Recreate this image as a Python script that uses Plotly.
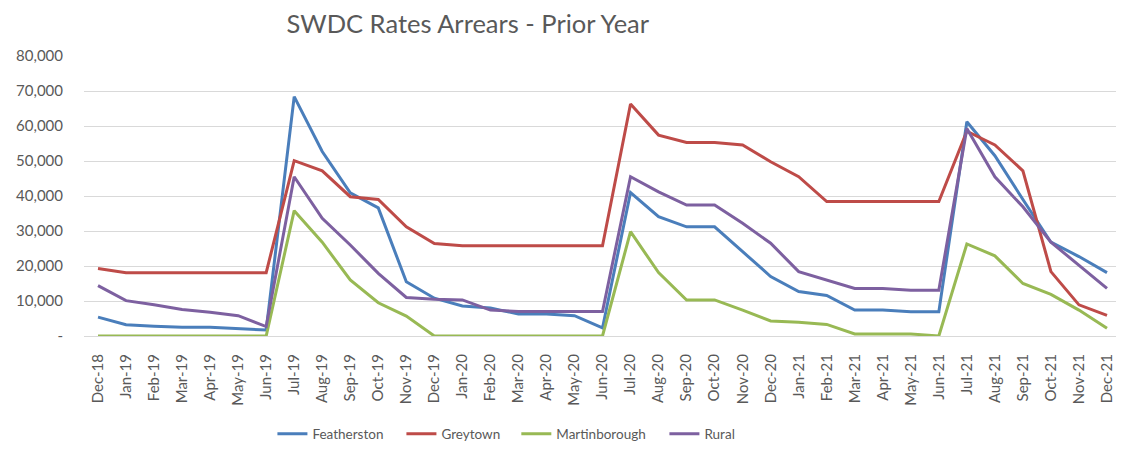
import plotly.graph_objects as go

months = ["Dec-18","Jan-19","Feb-19","Mar-19","Apr-19","May-19","Jun-19","Jul-19","Aug-19","Sep-19",
          "Oct-19","Nov-19","Dec-19","Jan-20","Feb-20","Mar-20","Apr-20","May-20","Jun-20","Jul-20",
          "Aug-20","Sep-20","Oct-20","Nov-20","Dec-20","Jan-21","Feb-21","Mar-21","Apr-21","May-21",
          "Jun-21","Jul-21","Aug-21","Sep-21","Oct-21","Nov-21","Dec-21"]

featherston = [5400, 3200, 2800, 2500, 2500, 2100, 1700, 68400, 52700, 40900,
               36600, 15500, 10800, 8600, 8000, 6300, 6300, 5800, 2300, 41000,
               34100, 31200, 31200, 24100, 17000, 12700, 11600, 7400, 7400, 6900,
               6900, 61200, 51500, 39000, 26800, 22700, 18100]
greytown = [19300, 18100, 18100, 18100, 18100, 18100, 18100, 50100, 47200, 39800,
            39000, 31200, 26400, 25800, 25800, 25800, 25800, 25800, 25800, 66300,
            57400, 55300, 55300, 54600, 49800, 45500, 38400, 38400, 38400, 38400,
            38400, 58500, 54600, 47200, 18400, 8900, 5900]
martinborough = [0, 0, 0, 0, 0, 0, 0, 35800, 26800, 16000,
                 9500, 5700, 0, 0, 0, 0, 0, 0, 0, 29800,
                 18100, 10300, 10300, 7400, 4300, 3900, 3300, 600, 600, 600,
                 0, 26300, 22900, 15000, 11900, 7400, 2200]
rural = [14400, 10100, 8900, 7600, 6800, 5800, 2700, 45500, 33600, 26000,
         17900, 11000, 10500, 10300, 7400, 7000, 7000, 7000, 7000, 45500,
         41200, 37400, 37400, 32200, 26500, 18400, 16000, 13600, 13600, 13100,
         13100, 59300, 45500, 36900, 26800, 20300, 13600]

series = [("Featherston", featherston, "#4A7EBB"),
          ("Greytown", greytown, "#BE4B48"),
          ("Martinborough", martinborough, "#98B954"),
          ("Rural", rural, "#7D60A0")]

ytickvals = [0, 10000, 20000, 30000, 40000, 50000, 60000, 70000, 80000]
yticktext = ["-", "10,000", "20,000", "30,000", "40,000", "50,000", "60,000", "70,000", "80,000"]

font_family = "Lato, 'Open Sans', sans-serif"
grey = "#595959"

# one legend per series so each entry can sit where the reference puts it
legend_ids = ["legend", "legend2", "legend3", "legend4"]
legend_x = [0.1817, 0.3061, 0.4169, 0.5597]

fig = go.Figure()
for (name, vals, col), lid in zip(series, legend_ids):
    fig.add_trace(go.Scatter(x=months, y=vals, name=name, mode="lines",
                             line=dict(color=col, width=3), legend=lid))

legend_common = dict(orientation="h", y=-0.35, yanchor="middle", xanchor="left",
                     font=dict(size=13.5, color=grey, family=font_family),
                     itemwidth=30, bgcolor="rgba(0,0,0,0)")

fig.update_layout(
    width=1116, height=451,
    paper_bgcolor="white", plot_bgcolor="white",
    margin=dict(l=76, r=3, t=48, b=123, autoexpand=False),
    title=dict(text="SWDC Rates Arrears - Prior Year", x=0.412, xanchor="center",
               y=0.965, yanchor="middle",
               font=dict(family=font_family, size=25.5, color=grey)),
    font=dict(family=font_family, size=15, color=grey),
    showlegend=True,
    xaxis=dict(type="category", categoryorder="array", categoryarray=months,
               range=[-0.5, len(months) - 0.5], tickangle=-90, automargin=False,
               showgrid=False, showline=True, linecolor="#D9D9D9", linewidth=1,
               ticks="", ticklabelstandoff=11, tickfont=dict(size=15, color=grey)),
    yaxis=dict(range=[0, 80000], tickvals=ytickvals, ticktext=yticktext, automargin=False,
               showgrid=True, gridcolor="#D9D9D9", gridwidth=1, zeroline=False,
               showline=False, ticks="", ticklabelstandoff=20,
               tickfont=dict(size=15, color=grey)),
)
for lid, lx in zip(legend_ids, legend_x):
    fig.update_layout({lid: dict(legend_common, x=lx)})

fig.write_html("out.html")
